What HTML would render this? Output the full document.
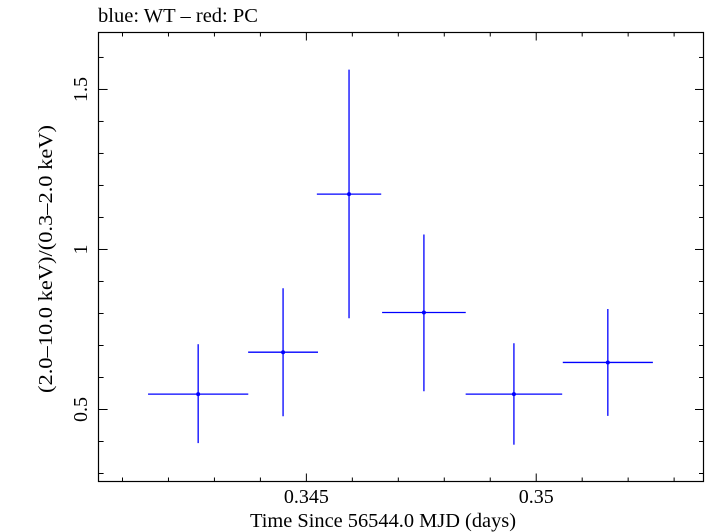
<!DOCTYPE html>
<html><head><meta charset="utf-8"><style>
body{margin:0;background:#fff;}
svg{display:block;font-family:"Liberation Serif",serif;}
</style></head><body>
<svg id="chart" width="705" height="532" viewBox="0 0 705 532">
<text x="98" y="22" font-size="20" textLength="160" lengthAdjust="spacingAndGlyphs" fill="#000">blue: WT – red: PC</text>
<rect x="98.5" y="32.5" width="605" height="449" fill="none" stroke="#000" stroke-width="1.2"/>
<g id="ticks"></g>
<g id="marks"></g>
<text x="383" y="527" font-size="20" textLength="266" lengthAdjust="spacingAndGlyphs" text-anchor="middle">Time Since 56544.0 MJD (days)</text>
<text transform="translate(52,259) rotate(-90)" font-size="20" textLength="268" lengthAdjust="spacingAndGlyphs" text-anchor="middle">(2.0–10.0 keV)/(0.3–2.0 keV)</text>
</svg>
<script>
const times=[0.342646,0.344493,0.345928,0.347557,0.349515,0.351558];
const timeErr=[0.00109,0.00076,0.0007,0.00091,0.00105,0.00098];
const ratios=[0.548,0.679,1.173,0.803,0.548,0.647];
const ratioHi=[0.704,0.879,1.562,1.047,0.707,0.814];
const ratioLo=[0.395,0.479,0.785,0.557,0.390,0.480];
const xTickLabels=["0.345","0.35"];
const yTickLabels=["0.5","1","1.5"];
const NS="http://www.w3.org/2000/svg";
const X0=98.6,X1=704,Y0=481.5,Y1=32.5;
const xMin=0.34048,xMax=0.35365,yMin=0.275,yMax=1.678;
function sx(v){return X0+(v-xMin)/(xMax-xMin)*(X1-X0);}
function sy(v){return Y0-(v-yMin)/(yMax-yMin)*(Y0-Y1);}
function mk(tag,attrs,parent){const e=document.createElementNS(NS,tag);for(const k in attrs)e.setAttribute(k,attrs[k]);parent.appendChild(e);return e;}
const tg=document.getElementById('ticks');
for(let i=341;i<=353;i++){const v=i/1000;const x=sx(v);const major=(i%5===0);const L=major?8:4;
 let t=mk('line',{x1:x,x2:x,y1:Y0,y2:Y0-L,stroke:'#000','stroke-width':1},tg);
 
 
 let t2=mk('line',{x1:x,x2:x,y1:Y1,y2:Y1+L,stroke:'#000','stroke-width':1},tg);
 
 }
xTickLabels.forEach(s=>{const tx=mk('text',{x:sx(parseFloat(s)),y:503,'font-size':20,'text-anchor':'middle'},tg);tx.textContent=s;
 
 });
for(let i=3;i<=16;i++){const v=i/10;const y=sy(v);const L=(i%5===0)?9:5;
 let t=mk('line',{x1:X0,x2:X0+L,y1:y,y2:y,stroke:'#000','stroke-width':1},tg);
 
 
 let t2=mk('line',{x1:X1,x2:X1-L,y1:y,y2:y,stroke:'#000','stroke-width':1},tg);
 
 }
yTickLabels.forEach(s=>{const y=sy(parseFloat(s));const tx=mk('text',{transform:`translate(87,${y}) rotate(-90)`,'font-size':20,'text-anchor':'middle'},tg);tx.textContent=s;
 
 });
const mg=document.getElementById('marks');
times.forEach((t,i)=>{const g=mk('g',{},mg);
 
 
 mk('line',{x1:sx(t-timeErr[i]),x2:sx(t+timeErr[i]),y1:sy(ratios[i]),y2:sy(ratios[i]),stroke:'#0000ff','stroke-width':1.3},g);
 mk('line',{x1:sx(t),x2:sx(t),y1:sy(ratioHi[i]),y2:sy(ratioLo[i]),stroke:'#0000ff','stroke-width':1.3},g);
 mk('circle',{cx:sx(t),cy:sy(ratios[i]),r:2,fill:'#0000ff'},g);});
</script>
</body></html>
